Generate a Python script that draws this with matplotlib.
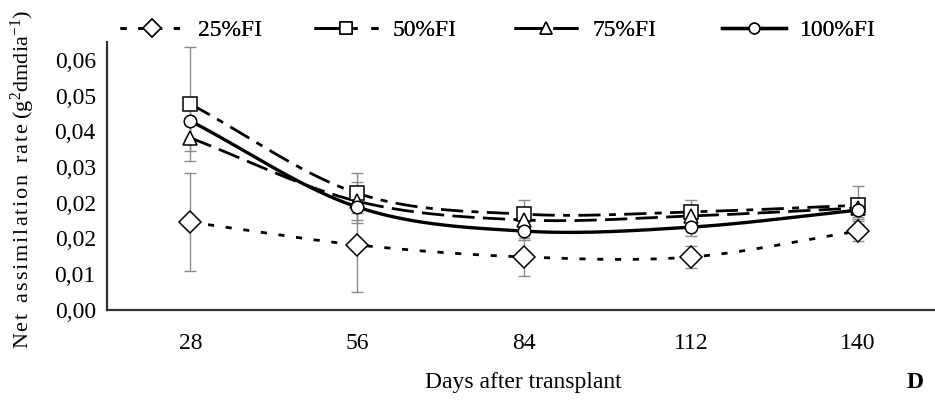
import numpy as np
import matplotlib.pyplot as plt
from matplotlib.lines import Line2D
from matplotlib.ticker import MultipleLocator, FuncFormatter

plt.rcParams['font.family'] = ['Liberation Serif', 'DejaVu Serif']
plt.rcParams['mathtext.fontset'] = 'custom'
plt.rcParams['mathtext.rm'] = 'Liberation Serif'
plt.rcParams['mathtext.it'] = 'Liberation Serif:italic'

# Days after transplant
days = [28, 56, 84, 112, 140]

# Net assimilation rate per irrigation level (mean and error)
fi25 = [0.0196, 0.0145, 0.0118, 0.0118, 0.0176]
fi25_err = [0.0110, 0.0105, 0.0043, 0.0025, 0.0022]
fi50 = [0.0461, 0.0261, 0.0214, 0.0219, 0.0234]
fi50_err = [0.0128, 0.0045, 0.0031, 0.0027, 0.0043]
fi75 = [0.0385, 0.0243, 0.0201, 0.0210, 0.0228]
fi75_err = [0.0030, 0.0043, 0.0020, 0.0020, 0.0020]
fi100 = [0.0423, 0.0230, 0.0176, 0.0185, 0.0223]
fi100_err = [0.0040, 0.0036, 0.0020, 0.0020, 0.0020]

labels = ['25%FI', '50%FI', '75%FI', '100%FI']
legend_x = [0.128, 0.336, 0.550, 0.772]


def smooth(x, y, n=40):
    # Catmull-Rom curve through the points, like a spreadsheet "smoothed line"
    x = np.asarray(x, float)
    y = np.asarray(y, float)
    px = np.concatenate([[2 * x[0] - x[1]], x, [2 * x[-1] - x[-2]]])
    py = np.concatenate([[2 * y[0] - y[1]], y, [2 * y[-1] - y[-2]]])
    xs, ys = [], []
    t = np.linspace(0, 1, n)
    for i in range(1, len(px) - 2):
        for p, out in ((px, xs), (py, ys)):
            p0, p1, p2, p3 = p[i - 1], p[i], p[i + 1], p[i + 2]
            out.extend(0.5 * (2 * p1 + (-p0 + p2) * t
                              + (2 * p0 - 5 * p1 + 4 * p2 - p3) * t ** 2
                              + (-p0 + 3 * p1 - 3 * p2 + p3) * t ** 3))
    return np.array(xs), np.array(ys)


# marker, size, width, line style, legend line style
series = [
    (fi25, fi25_err, 'D', 11, 2.0, (0, (2.2, 4.2)), (0, (2.2, 4.2))),
    (fi50, fi50_err, 's', 9.5, 2.0, (0, (8, 3, 2.5, 3)), (0, (9, 5, 1.5, 5))),
    (fi75, fi75_err, '^', 9.5, 2.0, (0, (8, 3)), (0, (11, 3))),
    (fi100, fi100_err, 'o', 9, 2.4, '-', '-'),
]

fig = plt.figure(figsize=(9.35, 4.01), dpi=100)
ax = fig.add_axes([0.1144, 0.228, 0.8856, 0.667])

for vals, err, mk, ms, lw, ls, lls in series:
    ax.errorbar(days, vals, yerr=err, fmt='none', ecolor='#8c8c8c',
                elinewidth=1.0, capsize=4.5, capthick=1.0, zorder=1)

handles = []
for vals, err, mk, ms, lw, ls, lls in series:
    sx, sy = smooth(days, vals)
    ax.plot(sx, sy, color='black', lw=lw, linestyle=ls, zorder=2)
    ax.plot(days, vals, linestyle='none', marker=mk, ms=ms, mfc='white',
            mec='black', mew=1.1, zorder=3)
    handles.append(Line2D([], [], color='black', lw=lw, linestyle=lls,
                          marker=mk, ms=ms * 0.85, mfc='white', mec='black',
                          mew=1.1))

ax.set_xlim(14, 152.9)
ax.set_ylim(0, 0.06)
ax.set_xticks(days)
ax.yaxis.set_major_locator(MultipleLocator(0.008))
ax.yaxis.set_major_formatter(FuncFormatter(lambda v, p: f'{v:.2f}'.replace('.', ',')))
ax.tick_params(axis='both', length=0, labelsize=17)
ax.tick_params(axis='y', pad=8)
ax.tick_params(axis='x', pad=17)

for side in ('top', 'right'):
    ax.spines[side].set_visible(False)
for side in ('left', 'bottom'):
    ax.spines[side].set_linewidth(1.6)
    ax.spines[side].set_color('#333333')

# letter-spaced axis title
hs = '\u200a'
title = hs.join('Net') + '  ' + hs.join('assimilation') + '  ' + hs.join('rate')
fig.text(0.024, 0.553, title + r' (g$^{2}$dmdia$^{-1}$)',
         rotation=90, ha='center', va='center', fontsize=16)
fig.text(0.56, 0.045, 'Days after transplant', ha='center', va='center',
         fontsize=17)
fig.text(0.979, 0.045, 'D', ha='center', va='center', fontsize=17,
         fontweight='bold')

# one legend entry per position along the top
for h, lab, lx in zip(handles, labels, legend_x):
    leg = fig.legend([h], [lab], loc='center left', bbox_to_anchor=(lx, 0.925),
                     frameon=False, fontsize=17, handlelength=2.7,
                     handletextpad=0.6, borderpad=0, borderaxespad=0)
    fig.add_artist(leg)

fig.savefig('out.png', dpi=100)
